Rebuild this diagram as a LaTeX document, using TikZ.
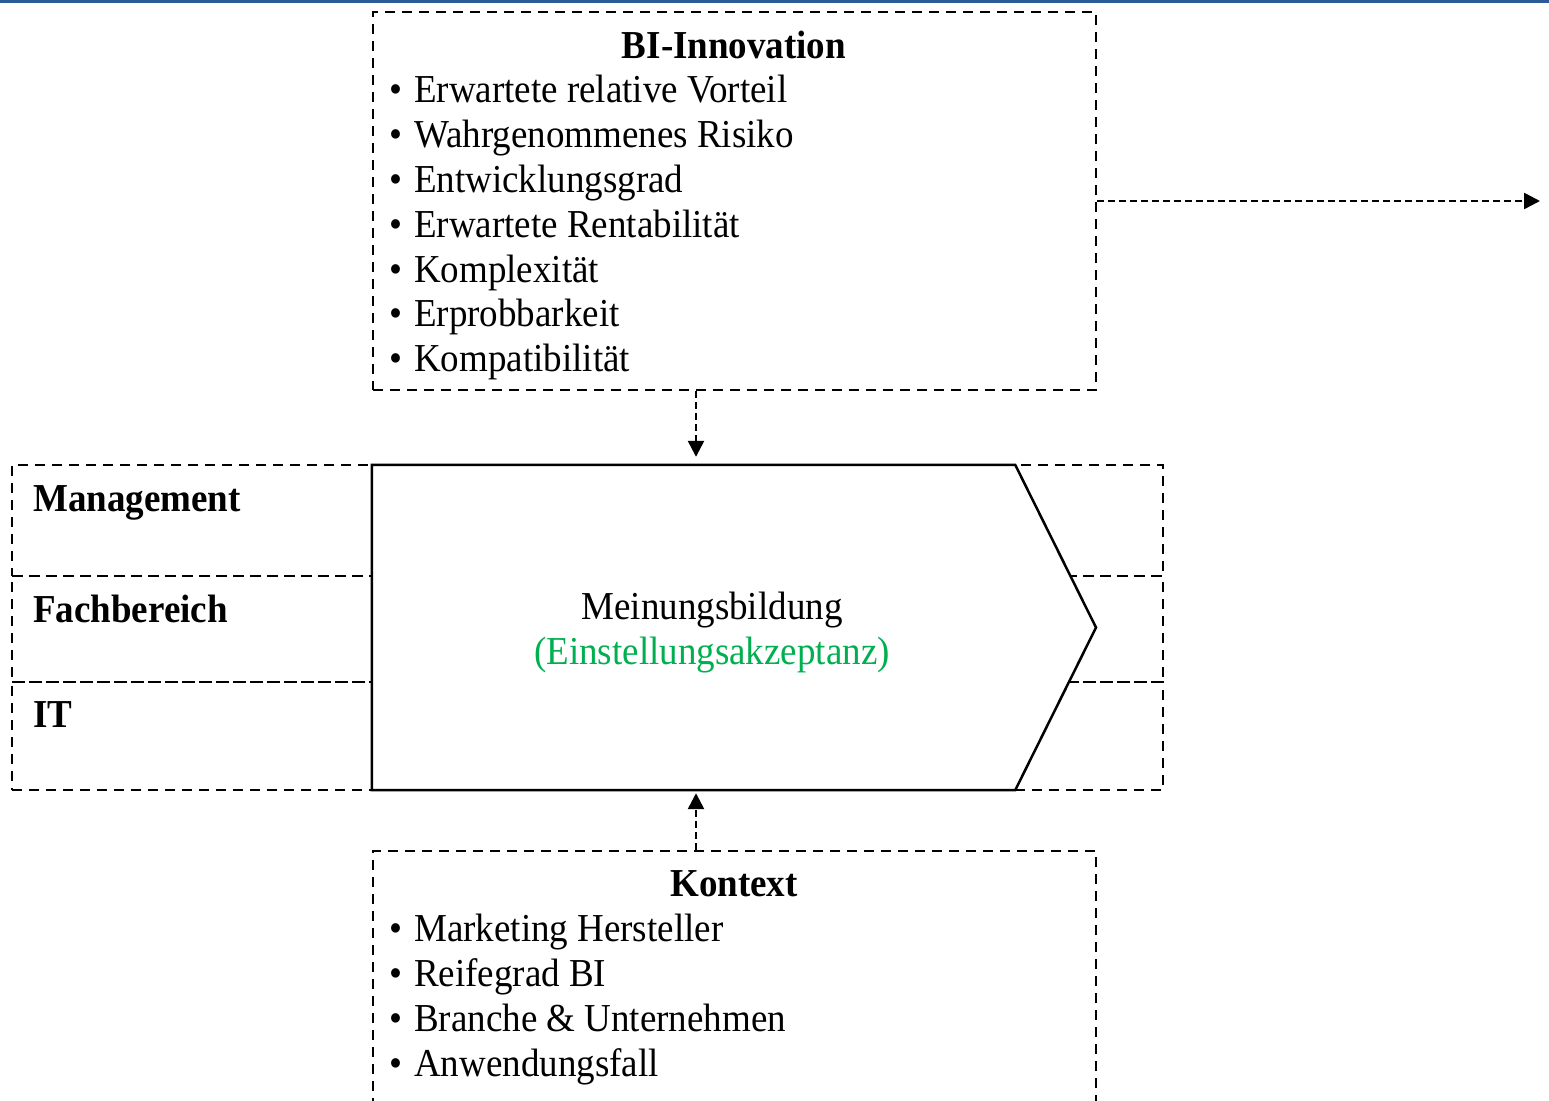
\documentclass[tikz,border=0pt]{standalone}
\usepackage{fontspec}
\setmainfont{Liberation Serif}
\usepackage{graphicx}
\usetikzlibrary{arrows.meta}
\definecolor{topblue}{RGB}{44,92,150}
\definecolor{accgreen}{RGB}{0,176,80}
% slightly taller lettering
\newcommand{\tall}[1]{\scalebox{1}[1.07]{#1}}
% bullet followed by a fixed gap
\newcommand{\bul}{•\hspace{12pt}}

\begin{document}
\begin{tikzpicture}[x=1pt,y=-1pt,
  dbox/.style={draw, dash pattern=on 10pt off 7pt, line width=2.5pt, rectangle, inner sep=0pt},
  lane/.style={dbox, minimum width=1151pt},
  txt/.style={inner sep=0pt, font=\fontsize{37}{45}\selectfont},
  item/.style={txt, anchor=base west},
  head/.style={inner sep=0pt, anchor=base, font=\fontsize{37}{45}\selectfont\bfseries},
  lanelabel/.style={head, anchor=base west},
  flow/.style={dash pattern=on 7pt off 4pt, line width=2.5pt, -{Triangle[length=16pt,width=16pt]}}
]
\useasboundingbox (0,0) rectangle (1549,1100);
\clip (0,0) rectangle (1549,1100);

% thin rule along the top edge
\fill[topblue] (0,0) rectangle (1549,2.5);

% ---- BI-Innovation box ----
\node[dbox, minimum width=723pt, minimum height=378pt] (bi) at (734.5,201) {};
\node[head] (bititle) at (734,58) {\tall{BI-Innovation}};
\node[item] (b1) at (389,102) {\tall{\bul Erwartete relative Vorteil}};
\node[item] (b2) at (389,147) {\tall{\bul Wahrgenommenes Risiko}};
\node[item] (b3) at (389,192) {\tall{\bul Entwicklungsgrad}};
\node[item] (b4) at (389,237) {\tall{\bul Erwartete Rentabilität}};
\node[item] (b5) at (389,282) {\tall{\bul Komplexität}};
\node[item] (b6) at (389,326) {\tall{\bul Erprobbarkeit}};
\node[item] (b7) at (389,371) {\tall{\bul Kompatibilität}};

% ---- swim lanes ----
\node[lane, minimum height=111pt] (l1) at (587.5,520.5) {};
\node[lane, minimum height=106pt] (l2) at (587.5,629) {};
\node[lane, minimum height=108pt] (l3) at (587.5,736) {};
\node[lanelabel] (mgmt) at (33,511) {\tall{Management}};
\node[lanelabel] (fach) at (33,622) {\tall{Fachbereich}};
\node[lanelabel] (itl) at (33,727) {\tall{IT}};

% ---- process chevron ----
\node[inner sep=0pt, minimum width=643pt, minimum height=325pt] (mb) at (693.5,627.5) {};
\coordinate (tip) at (1096,627.5);
\draw[fill=white, line width=2.5pt, line join=miter]
  (mb.north west) -- (mb.north east) -- (tip) -- (mb.south east) -- (mb.south west) -- cycle;
\node[txt, anchor=base] (mbt) at (712,619) {\tall{Meinungsbildung}};
\node[txt, anchor=base, text=accgreen] (mbs) at (712,664) {\tall{(Einstellungsakzeptanz)}};

% ---- Kontext box ----
\node[dbox, minimum width=723pt, minimum height=279pt] (ctx) at (734.5,990.5) {};
\node[head] (ctxtitle) at (734,896) {\tall{Kontext}};
\node[item] (k1) at (389,941) {\tall{\bul Marketing Hersteller}};
\node[item] (k2) at (389,986) {\tall{\bul Reifegrad BI}};
\node[item] (k3) at (389,1031) {\tall{\bul Branche \& Unternehmen}};
\node[item] (k4) at (389,1076) {\tall{\bul Anwendungsfall}};

% ---- connectors ----
\coordinate (ax) at (696,0);
\coordinate (out) at (1540,201);
\draw[flow, shorten >=8pt] (bi.south -| ax) -- (mb.north -| ax);
\draw[flow, shorten >=3pt] (ctx.north -| ax) -- (mb.south -| ax);
\draw[flow] (bi.east) -- (out);
\end{tikzpicture}
\end{document}
